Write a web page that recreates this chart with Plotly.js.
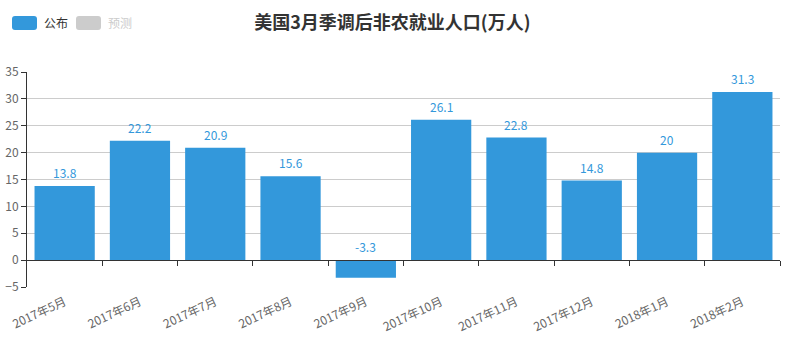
<!DOCTYPE html>
<html>
<head>
<meta charset="utf-8">
<script src="https://cdn.plot.ly/plotly-3.0.1.min.js"></script>
<style>html,body{margin:0;padding:0;background:#fff;}#chart{width:791px;height:351px;}</style>
</head>
<body>
<div id="chart"></div>
<script>
const categories = ['2017年5月','2017年6月','2017年7月','2017年8月','2017年9月','2017年10月','2017年11月','2017年12月','2018年1月','2018年2月'];
const published = [13.8, 22.2, 20.9, 15.6, -3.3, 26.1, 22.8, 14.8, 20, 31.3];
const seriesNames = ['公布', '预测'];
const titleText = '美国3月季调后非农就业人口(万人)';

const FONT = '"Microsoft YaHei","Noto Sans CJK SC","Noto Sans",sans-serif';
const BLUE = '#3398DB';

const boundaries = categories.slice(1).map((c, i) => i + 0.5).concat([categories.length - 0.5]);

const traces = [
  {
    type: 'bar', x: categories, y: published, name: seriesNames[0],
    marker: {color: BLUE}, hoverinfo: 'none', showlegend: false
  },
  {
    type: 'scatter', mode: 'lines', xaxis: 'x2', yaxis: 'y',
    x: [-0.5, categories.length - 0.5], y: [0, 0],
    line: {width: 0, color: 'rgba(0,0,0,0)'}, opacity: 0, hoverinfo: 'none', showlegend: false
  }
];

const labelAnnotations = categories.map((c, i) => ({
  xref: 'x', yref: 'y', x: c, y: Math.max(published[i], 0), xanchor: 'center', yanchor: 'bottom',
  yshift: 3, text: String(published[i]), showarrow: false,
  font: {size: 12, color: BLUE, family: FONT}
}));

const layout = {
  width: 791, height: 351,
  margin: {l: 27, r: 11, t: 72, b: 64},
  paper_bgcolor: '#fff', plot_bgcolor: '#fff',
  showlegend: false,
  bargap: 0.2,
  font: {family: FONT, color: '#666', size: 12},
  title: {text: '<b>' + titleText + '</b>', x: 0.496, xanchor: 'center', y: 0.935, yanchor: 'middle',
          font: {size: 18, color: '#333', family: FONT}},
  xaxis: {
    type: 'category', showline: false, showgrid: false, zeroline: false, ticks: '',
    tickangle: -25, ticklabelstandoff: 5, tickfont: {size: 12, color: '#666', family: FONT}, fixedrange: true
  },
  xaxis2: {
    overlaying: 'x', anchor: 'free', position: 0.125, type: 'linear', side: 'bottom',
    range: [-0.5, categories.length - 0.5], tickmode: 'array', tickvals: boundaries,
    ticks: 'outside', ticklen: 5, tickcolor: '#333', showticklabels: false,
    showline: true, linecolor: '#333', linewidth: 1, showgrid: false, zeroline: false, fixedrange: true
  },
  yaxis: {
    range: [-5, 35], dtick: 5, tick0: 0, showgrid: true, gridcolor: '#ccc', gridwidth: 1,
    zeroline: true, zerolinecolor: '#333', zerolinewidth: 1, showline: true, linecolor: '#333', linewidth: 1,
    ticks: 'outside', ticklen: 5, tickcolor: '#333',
    tickfont: {size: 12, color: '#666', family: FONT}, fixedrange: true
  },
  shapes: [
    {type: 'path', xref: 'paper', yref: 'paper', xsizemode: 'pixel', ysizemode: 'pixel',
     xanchor: -27/753, yanchor: 1 + 72/215,
     path: 'M 15,-16 L 34,-16 Q 37,-16 37,-19 L 37,-27 Q 37,-30 34,-30 L 15,-30 Q 12,-30 12,-27 L 12,-19 Q 12,-16 15,-16 Z',
     fillcolor: BLUE, line: {width: 0}},
    {type: 'path', xref: 'paper', yref: 'paper', xsizemode: 'pixel', ysizemode: 'pixel',
     xanchor: -27/753, yanchor: 1 + 72/215,
     path: 'M 79,-16 L 98,-16 Q 101,-16 101,-19 L 101,-27 Q 101,-30 98,-30 L 79,-30 Q 76,-30 76,-27 L 76,-19 Q 76,-16 79,-16 Z',
     fillcolor: '#ccc', line: {width: 0}}
  ],
  annotations: [
    {xref: 'paper', yref: 'paper', x: (42 - 27) / 753, y: 1 + (72 - 23) / 215, xanchor: 'left', yanchor: 'middle',
     text: seriesNames[0], showarrow: false, font: {size: 12, color: '#333', family: FONT}},
    {xref: 'paper', yref: 'paper', x: (106 - 27) / 753, y: 1 + (72 - 23) / 215, xanchor: 'left', yanchor: 'middle',
     text: seriesNames[1], showarrow: false, font: {size: 12, color: '#ccc', family: FONT}}
  ].concat(labelAnnotations)
};

Plotly.newPlot('chart', traces, layout, {displayModeBar: false, staticPlot: true});
</script>
</body>
</html>
